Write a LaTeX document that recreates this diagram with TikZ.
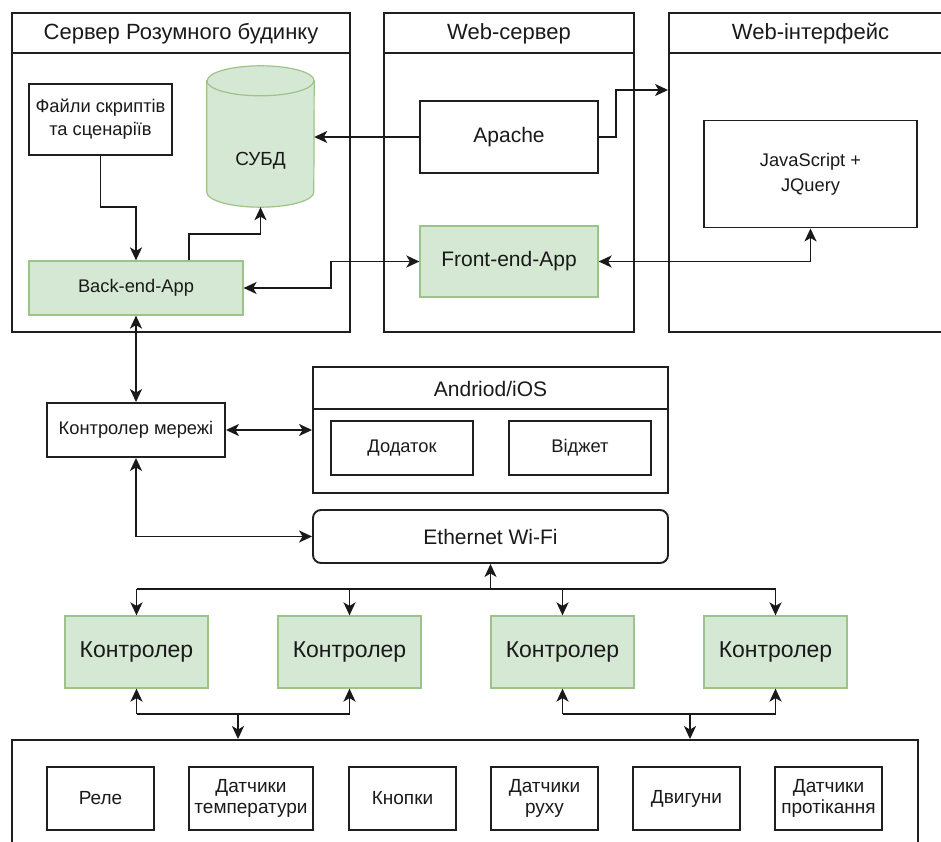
\documentclass[tikz,border=0pt]{standalone}
\usepackage{fontspec}
\setmainfont{Liberation Sans}
\usetikzlibrary{arrows.meta}
\definecolor{gfill}{HTML}{D5E8D4}
\definecolor{gline}{HTML}{9CC48A}
\definecolor{txt}{HTML}{1A1A1A}
\begin{document}
\begin{tikzpicture}[x=1pt,y=-1pt,
  every node/.style={text=txt},
  box/.style={draw=black!88, line width=1.9pt, fill=white, inner sep=0pt, align=center},
  gbox/.style={draw=gline, line width=1.2pt, fill=gfill, inner sep=0pt, align=center},
  cont/.style={draw=black!88, line width=1.9pt, fill=white, inner sep=0pt},
  conn/.style={line width=1.9pt, draw=black!90},
  tip/.tip={Stealth[length=13pt,width=12pt,inset=3.5pt]},
  arr/.style={conn, -tip},
  barr/.style={conn, tip-tip},
  ftitle/.style={font=\fontsize{22}{25}\selectfont},
  fbig/.style={font=\fontsize{21}{24}\selectfont},
  fctl/.style={font=\fontsize{23}{26}\selectfont},
  fsm/.style={font=\fontsize{18.3}{23}\selectfont},
  fdev/.style={font=\fontsize{19}{21.5}\selectfont},
]
\useasboundingbox (0,0) rectangle (941,842);
\clip (0,0) rectangle (941,842);

% containers
\node[cont, minimum width=338pt, minimum height=319pt] (srv) at (181,172.5) {};
\node[cont, minimum width=250pt, minimum height=319pt] (ws) at (509,172.5) {};
\node[cont, minimum width=283pt, minimum height=319pt] (wi) at (810.5,172.5) {};
\node[cont, minimum width=355pt, minimum height=126pt] (an) at (490.5,430) {};
\node[cont, minimum width=906pt, minimum height=130pt] (bot) at (465,805) {};

\foreach \c in {srv,ws,wi}{
  \draw[line width=1.9pt, black!88] (\c.north west |- 0,53) -- (\c.north east |- 0,53);
}
\draw[line width=1.9pt, black!88] (an.north west |- 0,409) -- (an.north east |- 0,409);

\node[ftitle] (tsrv) at (srv.north |- 0,34) {Сервер Розумного будинку};
\node[ftitle] (tws) at (ws.north |- 0,34) {Web-сервер};
\node[ftitle] (twi) at (wi.north |- 0,34) {Web-інтерфейс};
\node[fbig] (tan) at (an.north |- 0,389) {Andriod/iOS};

% left server
\node[box, fsm, minimum width=143pt, minimum height=71pt] (f) at (100.5,119.5) {Файли скриптів\\та сценаріїв};
\node[gbox, fsm, minimum width=214pt, minimum height=54pt] (be) at (136,288) {Back-end-App};
\node[minimum width=107pt, minimum height=141pt, inner sep=0pt] (db) at (260.5,136.5) {};
\path[draw=gline, line width=1.2pt, fill=gfill]
  ([yshift=-15pt]db.north west) -- ([yshift=15pt]db.south west)
  arc[start angle=180, end angle=360, x radius=53.5pt, y radius=15pt]
  -- ([yshift=-15pt]db.north east)
  arc[start angle=0, end angle=180, x radius=53.5pt, y radius=15pt] -- cycle;
\draw[gline, line width=1.2pt] ([yshift=-15pt]db.north west)
  arc[start angle=180, end angle=360, x radius=53.5pt, y radius=15pt];
\node[font=\fontsize{19}{22}\selectfont] (dbt) at (260.5,161) {СУБД};

% web server
\node[box, fbig, minimum width=178pt, minimum height=72pt] (ap) at (509,137) {Apache};
\node[gbox, fbig, minimum width=178pt, minimum height=71pt] (fe) at (509,261.5) {Front-end-App};

% web interface
\node[box, minimum width=213pt, minimum height=107pt, font=\fontsize{18.3}{25}\selectfont] (js) at (810.5,174) {JavaScript +\\JQuery};

% middle
\node[box, fsm, minimum width=178pt, minimum height=54pt] (nc) at (136,430) {Контролер мережі};
\node[box, fsm, minimum width=142pt, minimum height=54pt] (app) at (402,448) {Додаток};
\node[box, fsm, minimum width=142pt, minimum height=54pt] (wid) at (580,448) {Віджет};
\node[box, fbig, rounded corners=8pt, minimum width=355pt, minimum height=53pt] (eth) at (490.5,536.5) {Ethernet Wi-Fi};

% controllers
\node[gbox, fctl, minimum width=143pt, minimum height=72pt] (c1) at (136.5,652) {Контролер};
\node[gbox, fctl, minimum width=143pt, minimum height=72pt] (c2) at (349.5,652) {Контролер};
\node[gbox, fctl, minimum width=143pt, minimum height=72pt] (c3) at (562.5,652) {Контролер};
\node[gbox, fctl, minimum width=143pt, minimum height=72pt] (c4) at (775.5,652) {Контролер};

% devices
\node[box, fdev, minimum width=107pt, minimum height=63pt] (d1) at (100.5,798.5) {Реле};
\node[box, fdev, minimum width=124pt, minimum height=63pt] (d2) at (251,798.5) {Датчики\\температури};
\node[box, fdev, minimum width=107pt, minimum height=63pt] (d3) at (402.5,798.5) {Кнопки};
\node[box, fdev, minimum width=107pt, minimum height=63pt] (d4) at (544.5,798.5) {Датчики\\руху};
\node[box, fdev, minimum width=107pt, minimum height=63pt] (d5) at (686.5,798.5) {Двигуни};
\node[box, fdev, minimum width=107pt, minimum height=63pt] (d6) at (828.5,798.5) {Датчики\\протікання};

% connectors
\draw[arr] (f.south) -- (f.south |- 0,207) -| (be.north);
\draw[arr] ([xshift=53pt]be.north) |- (db.south |- 0,234) -- (db.south);
\draw[arr] (ap.west) -- (ap.west -| db.east);
\draw[arr] (ap.east) -- ++(17,0) |- (wi.west |- 0,90);
\draw[barr] (be.east) -- (be.east -| 331,0) |- (fe.west);
\draw[barr] (fe.east) -| (js.south);
\draw[barr] (be.south) -- (nc.north);
\draw[barr] (nc.east) -- (nc.east -| an.west);
\draw[barr] (nc.south) |- (eth.west);

\coordinate (b1) at (c1.north |- 0,589);
\coordinate (b4) at (c4.north |- 0,589);
\draw[conn] (b1) -- (b4);
\draw[arr] (b1) -- (c1.north);
\draw[arr] (c2.north |- 0,589) -- (c2.north);
\draw[arr] (c3.north |- 0,589) -- (c3.north);
\draw[arr] (b4) -- (c4.north);
\draw[arr] (eth.south |- 0,589) -- (eth.south);

\coordinate (l1) at (c1.south |- 0,714);
\coordinate (l2) at (c2.south |- 0,714);
\draw[arr] (l1) -- (c1.south);
\draw[arr] (l2) -- (c2.south);
\draw[conn] (l1) -- (l2);
\draw[arr] (238,714) -- (bot.north -| 238,0);

\coordinate (r1) at (c3.south |- 0,714);
\coordinate (r2) at (c4.south |- 0,714);
\draw[arr] (r1) -- (c3.south);
\draw[arr] (r2) -- (c4.south);
\draw[conn] (r1) -- (r2);
\draw[arr] (690,714) -- (bot.north -| 690,0);
\end{tikzpicture}
\end{document}
